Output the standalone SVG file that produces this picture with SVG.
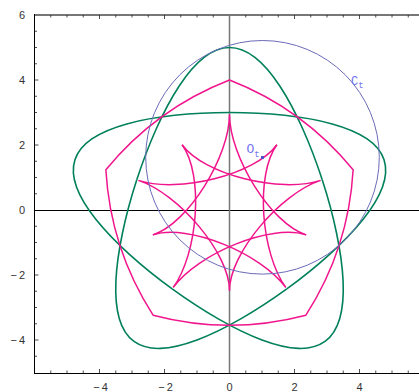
<svg xmlns="http://www.w3.org/2000/svg" xmlns:xlink="http://www.w3.org/1999/xlink" width="419" height="392" viewBox="0 0 419 392">
<style>
.lbl{font-family:"Liberation Sans",Arial,sans-serif;font-size:11px;fill:#333}
.ax{font-family:"Liberation Mono","Courier New",monospace;fill:#7474f0}
.grn{fill:none;stroke:#00805a;stroke-width:1.6}
.pnk{fill:none;stroke:#f0158c;stroke-width:1.5}
.tk{stroke:#222;stroke-width:0.8;fill:none}
</style>
<defs>
<path id="lobe" d="M30.129,-92.728 C47.932,-86.944 65.440,-80.276 81.496,-73.072 C97.552,-65.869 112.144,-58.132 124.275,-50.119 C136.407,-42.106 146.071,-33.816 152.595,-25.418 C159.120,-17.019 162.5,-8.509 162.5,0 C162.5,8.509 159.120,17.019 152.595,25.418 C146.071,33.816 136.407,42.106 124.275,50.119 C112.144,58.132 97.552,65.869 81.496,73.072 C65.440,80.276 47.932,86.944 30.129,92.728"/>
<path id="arcs" d="M0,-95.875 C0,-53.625 41.111,13.358 76.655,24.907 M0,-95.875 C0,-53.625 -41.111,13.358 -76.655,24.907"/>
</defs>
<rect width="419" height="392" fill="#fff"/>
<g id="frame">
<line x1="34.5" y1="15" x2="419" y2="15" stroke="#777" stroke-width="2"/>
<line x1="34.5" y1="14" x2="34.5" y2="374" stroke="#000" stroke-width="1"/>
<line x1="34" y1="373.5" x2="419" y2="373.5" stroke="#000" stroke-width="1"/>
<line x1="34.5" y1="210.5" x2="419" y2="210.5" stroke="#000" stroke-width="1"/>
<line x1="229.5" y1="15" x2="229.5" y2="373" stroke="#777" stroke-width="1.5"/>
<path class="tk" d="M34.5,31.25h2.5M34.5,47.5h2.5M34.5,63.75h2.5M34.5,80h4M34.5,96.25h2.5M34.5,112.5h2.5M34.5,128.75h2.5M34.5,145h4M34.5,161.25h2.5M34.5,177.5h2.5M34.5,193.75h2.5M34.5,226.25h2.5M34.5,242.5h2.5M34.5,258.75h2.5M34.5,275h4M34.5,291.25h2.5M34.5,307.5h2.5M34.5,323.75h2.5M34.5,340h4M34.5,356.25h2.5"/>
<path class="tk" d="M50.75,373v-2.5M67,373v-2.5M83.25,373v-2.5M99.5,373v-4M115.75,373v-2.5M132,373v-2.5M148.25,373v-2.5M164.5,373v-4M180.75,373v-2.5M197,373v-2.5M213.25,373v-2.5M245.75,373v-2.5M262,373v-2.5M278.25,373v-2.5M294.5,373v-4M310.75,373v-2.5M327,373v-2.5M343.25,373v-2.5M359.5,373v-4M375.75,373v-2.5M392,373v-2.5M408.25,373v-2.5"/>
<path class="tk" stroke="#555" d="M50.75,15v2.5M67,15v2.5M83.25,15v2.5M99.5,15v4M115.75,15v2.5M132,15v2.5M148.25,15v2.5M164.5,15v4M180.75,15v2.5M197,15v2.5M213.25,15v2.5M245.75,15v2.5M262,15v2.5M278.25,15v2.5M294.5,15v4M310.75,15v2.5M327,15v2.5M343.25,15v2.5M359.5,15v4M375.75,15v2.5M392,15v2.5M408.25,15v2.5"/>
</g>
<g id="labels" class="lbl">
<text x="25" y="19" text-anchor="end">6</text>
<text x="25" y="84" text-anchor="end">4</text>
<text x="25" y="149" text-anchor="end">2</text>
<text x="25" y="214" text-anchor="end">0</text>
<text x="25" y="279" text-anchor="end">−<tspan dx="2">2</tspan></text>
<text x="25" y="344" text-anchor="end">−<tspan dx="2">4</tspan></text>
<text x="100.5" y="390.5" text-anchor="middle">−<tspan dx="2">4</tspan></text>
<text x="165.5" y="390.5" text-anchor="middle">−<tspan dx="2">2</tspan></text>
<text x="229.5" y="390.5" text-anchor="middle">0</text>
<text x="294.5" y="390.5" text-anchor="middle">2</text>
<text x="359.5" y="390.5" text-anchor="middle">4</text>
</g>
<g id="green-curve" transform="translate(229.5 210)" class="grn">
<use xlink:href="#lobe" href="#lobe" transform="rotate(-90)"/>
<use xlink:href="#lobe" href="#lobe" transform="rotate(-18)"/>
<use xlink:href="#lobe" href="#lobe" transform="rotate(54)"/>
<use xlink:href="#lobe" href="#lobe" transform="rotate(126)"/>
<use xlink:href="#lobe" href="#lobe" transform="rotate(198)"/>
</g>
<g id="outer-pink">
<path class="pnk" d="M229.5,80 A300.3,300.3 0 0 1 353.14,169.83 A300.3,300.3 0 0 1 305.91,315.17 A300.3,300.3 0 0 1 153.09,315.17 A300.3,300.3 0 0 1 105.86,169.83 A300.3,300.3 0 0 1 229.5,80 Z"/>
</g>
<g id="inner-star" transform="translate(229.5 210)" class="pnk">
<use xlink:href="#arcs" href="#arcs"/>
<use xlink:href="#arcs" href="#arcs" transform="rotate(72)"/>
<use xlink:href="#arcs" href="#arcs" transform="rotate(144)"/>
<use xlink:href="#arcs" href="#arcs" transform="rotate(216)"/>
<use xlink:href="#arcs" href="#arcs" transform="rotate(288)"/>
</g>
<g id="circle-Ct">
<circle cx="262.5" cy="157.3" r="116.8" fill="none" stroke="#6b6bb8" stroke-width="1"/>
<text class="ax" x="351" y="84.5" font-size="12">C<tspan font-size="9" dy="3.5">t</tspan></text>
</g>
<g id="point-Ot">
<rect x="261" y="156" width="3" height="3" fill="#5050c8"/>
<text class="ax" x="246.5" y="153.3" font-size="13">O<tspan font-size="9" dy="3.5">t</tspan></text>
</g>
</svg>
